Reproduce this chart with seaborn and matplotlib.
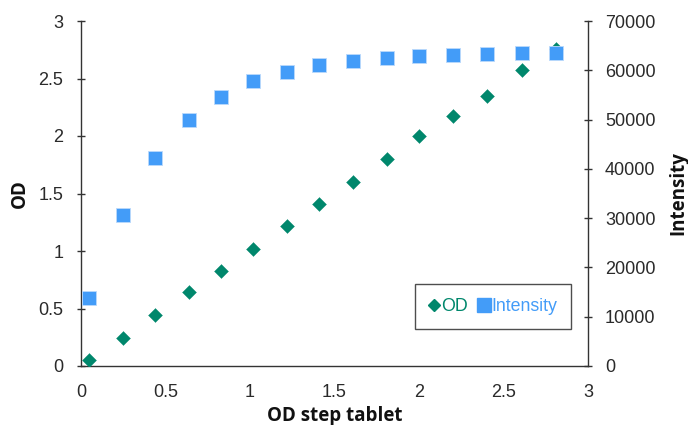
import matplotlib
matplotlib.use("Agg")
import matplotlib.pyplot as plt
import seaborn as sns
import pandas as pd
from matplotlib.lines import Line2D

step_tablet = [0.05, 0.25, 0.44, 0.64, 0.83, 1.02, 1.22, 1.41, 1.61, 1.81,
               2.00, 2.20, 2.40, 2.61, 2.81]
od_values = [0.05, 0.24, 0.44, 0.64, 0.83, 1.02, 1.22, 1.41, 1.60, 1.80,
             2.00, 2.17, 2.35, 2.57, 2.76]
intensity_values = [13700, 30600, 42300, 49900, 54650, 57750, 59700, 61150,
                    61950, 62500, 62900, 63100, 63300, 63450, 63550]

x_ticks = [0, 0.5, 1, 1.5, 2, 2.5, 3]
x_ticklabels = ["0", "0.5", "1", "1.5", "2", "2.5", "3"]
od_ticks = [0, 0.5, 1, 1.5, 2, 2.5, 3]
od_ticklabels = ["0", "0.5", "1", "1.5", "2", "2.5", "3"]
int_ticks = [0, 10000, 20000, 30000, 40000, 50000, 60000, 70000]

GREEN = "#00876C"
BLUE = "#439CF8"
AX = "#333333"

df = pd.DataFrame({"step": step_tablet, "od": od_values, "intensity": intensity_values})

sns.set_style("white")
plt.rcParams["font.family"] = ["Liberation Sans", "DejaVu Sans"]

fig = plt.figure(figsize=(6.88, 4.25), dpi=100)
ax = fig.add_axes([81 / 688, 1 - 366 / 425, 507 / 688, 345 / 425])
ax2 = ax.twinx()

sns.scatterplot(data=df, x="step", y="od", ax=ax, marker="D", s=50,
                color=GREEN, edgecolor=GREEN, linewidth=0.3, zorder=3)
sns.scatterplot(data=df, x="step", y="intensity", ax=ax2, marker="s", s=92,
                color=BLUE, edgecolor="#BBD9FB", linewidth=0.6, zorder=3)

ax.set_xlim(0, 3)
ax.set_ylim(0, 3)
ax2.set_ylim(0, 70000)
ax.set_xticks(x_ticks)
ax.set_xticklabels(x_ticklabels)
ax.set_yticks(od_ticks)
ax.set_yticklabels(od_ticklabels)
ax2.set_yticks(int_ticks)
ax2.set_yticklabels([str(v) for v in int_ticks])

for a in (ax, ax2):
    a.spines["top"].set_visible(False)
    for s in ("left", "right", "bottom"):
        a.spines[s].set_color(AX)
        a.spines[s].set_linewidth(1.0)
    a.tick_params(direction="inout", length=5.5, width=1.0, color=AX,
                  labelsize=13, labelcolor="#2a2a2a")
ax.spines["right"].set_visible(False)
ax2.spines["left"].set_visible(False)
ax2.spines["bottom"].set_visible(False)
ax.tick_params(axis="x", pad=10)
ax.tick_params(axis="y", pad=10)
ax2.tick_params(axis="y", pad=9.5)

lab_font = dict(family=["Open Sans", "DejaVu Sans"], fontweight="bold", fontsize=13.5, color="#111111")
ax.set_xlabel("OD step tablet", labelpad=3.5, **lab_font)
ax.set_ylabel("OD", labelpad=6, **lab_font)
ax2.set_ylabel("Intensity", labelpad=9, **lab_font)

handles = [
    Line2D([], [], marker="D", linestyle="none", color=GREEN, markersize=6.5),
    Line2D([], [], marker="s", linestyle="none", color=BLUE, markersize=9.5),
]
leg = ax2.legend(handles, ["OD", "Intensity"], ncol=2, loc="center",
                 bbox_to_anchor=(0.813, 0.172), frameon=True, fancybox=False,
                 fontsize=12.8, handletextpad=0.1, columnspacing=0.6,
                 handlelength=0.6, borderpad=0.78, borderaxespad=0)
leg.get_frame().set_edgecolor("#222222")
leg.get_frame().set_linewidth(1.0)
for t, c in zip(leg.get_texts(), [GREEN, BLUE]):
    t.set_color(c)

fig.savefig("out.png", dpi=100)
